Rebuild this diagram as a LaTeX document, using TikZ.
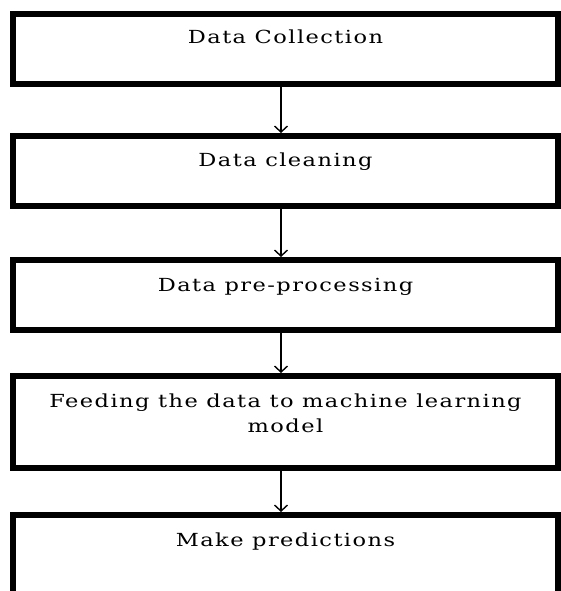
\documentclass[tikz,border=0pt]{standalone}
\usepackage{fontspec}
\usetikzlibrary{arrows.meta, positioning}
\newfontfamily\stepfont[LetterSpace=8, FakeStretch=1.25]{DejaVu Serif}
\tikzset{
  stagebox/.style = {rectangle, draw=black, line width=6pt, fill=white,
                     minimum width=545pt, inner sep=0pt},
  stagetext/.style = {anchor=base, align=center, inner sep=0pt,
                      font=\fontsize{18}{25}\stepfont},
  flow/.style = {-{Straight Barb[length=6pt, width=13pt]}, line width=1.4pt, draw=black},
}

\begin{document}
\begin{tikzpicture}[x=1pt, y=-1pt]
  \useasboundingbox (0,0) rectangle (561,591);

  % the five stages, top to bottom
  \node[stagebox, minimum height=70pt] (collect) at (285.5,49) {};
  \node[stagebox, minimum height=70pt, below=46pt of collect] (clean) {};
  \node[stagebox, minimum height=70pt, below=48pt of clean] (prep) {};
  \node[stagebox, minimum height=92pt, below=40pt of prep] (feed) {};
  \node[stagebox, minimum height=105pt, below=41pt of feed] (predict) {};

  \node[stagetext] (collecttxt) at ([yshift=-33pt]collect.north) {Data Collection};
  \node[stagetext] (cleantxt) at ([yshift=-33pt]clean.north) {Data cleaning};
  \node[stagetext] (preptxt) at ([yshift=-34pt]prep.north) {Data pre-processing};
  % two lines: base sits on the last one
  \node[stagetext] (feedtxt) at ([yshift=-59pt]feed.north) {Feeding the data to machine learning\\ model};
  \node[stagetext] (predicttxt) at ([yshift=-34.5pt]predict.north) {Make predictions};

  % arrows between stages
  \draw[flow] ([xshift=-4.5pt]collect.south) -- ([xshift=-4.5pt]clean.north);
  \draw[flow] ([xshift=-4.5pt]clean.south) -- ([xshift=-4.5pt]prep.north);
  \draw[flow] ([xshift=-4.5pt]prep.south) -- ([xshift=-4.5pt]feed.north);
  \draw[flow] ([xshift=-4.5pt]feed.south) -- ([xshift=-4.5pt]predict.north);
\end{tikzpicture}
\end{document}
